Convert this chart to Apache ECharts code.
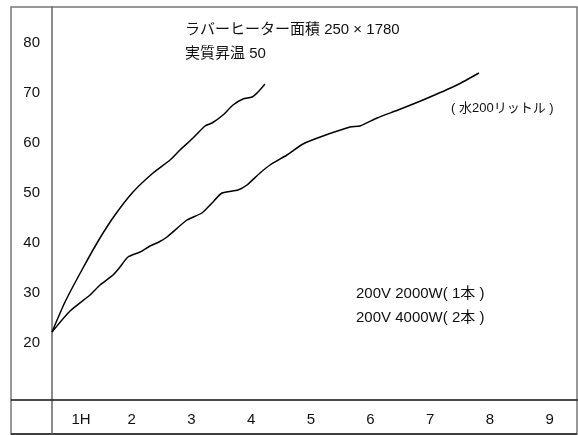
<!DOCTYPE html>
<html>
<head>
<meta charset="utf-8">
<script src="https://cdn.jsdelivr.net/npm/echarts@6/dist/echarts.min.js"></script>
<style>html,body{margin:0;padding:0;background:#fff;}#c{width:578px;height:435px;}</style>
</head>
<body>
<div id="c"></div>
<script>
// Tick labels
const xTicks = [1, 2, 3, 4, 5, 6, 7, 8, 9];
const yTicks = [20, 30, 40, 50, 60, 70, 80];

// 200V 4000W (2本) - upper curve: hours, temperature
const hours4000 = [0.665, 0.883, 1.184, 1.469, 1.720, 2.022, 2.357, 2.642, 2.809, 3.027, 3.228, 3.345, 3.529, 3.697, 3.864, 4.015, 4.116, 4.233];
const temps4000 = [22.2, 28.2, 35.0, 41.0, 45.6, 50.2, 54.0, 56.6, 58.6, 61.0, 63.4, 64.0, 65.6, 67.6, 68.8, 69.2, 70.2, 71.8];

// 200V 2000W (1本) - lower curve
const hours2000 = [0.665, 0.967, 1.302, 1.469, 1.687, 1.804, 1.938, 2.139, 2.307, 2.457, 2.591, 2.926, 3.178, 3.345, 3.513, 3.781, 3.931, 4.149, 4.317, 4.601, 4.869, 5.204, 5.657, 5.824, 6.109, 6.461, 6.879, 7.449, 7.817];
const temps2000 = [22.2, 26.4, 29.6, 31.6, 33.6, 35.2, 37.2, 38.2, 39.4, 40.2, 41.2, 44.6, 46.0, 48.0, 50.0, 50.6, 51.6, 54.0, 55.6, 57.6, 59.8, 61.4, 63.2, 63.4, 65.0, 66.6, 68.6, 71.6, 74.0];

const titleLine1 = 'ラバーヒーター面積 250 × 1780';
const titleLine2 = '実質昇温 50';
const waterNote = '( 水200リットル )';
const legend1 = '200V 2000W( 1本 )';
const legend2 = '200V 4000W( 2本 )';

const FONT = '"Liberation Sans", Arial, "Noto Sans CJK JP", sans-serif';

function zip(xs, ys) { return xs.map((x, i) => [x, ys[i]]); }

const chart = echarts.init(document.getElementById('c'), null, {renderer: 'canvas'});
chart.setOption({
  animation: false,
  backgroundColor: '#fff',
  grid: {left: 52, right: 1, top: 7, bottom: 35, containLabel: false},
  xAxis: {
    type: 'value', min: 0.665, max: 9.459,
    axisLine: {show: true, lineStyle: {color: '#111', width: 1.5}},
    axisTick: {show: false},
    splitLine: {show: false},
    axisLabel: {
      customValues: xTicks, margin: 12, fontSize: 15, color: '#111', fontFamily: FONT,
      formatter: v => v === 1 ? '{h|1H}' : String(v),
      rich: {h: {fontSize: 15, color: '#111', fontFamily: FONT, padding: [0, 0, 0, 18]}}
    }
  },
  yAxis: {
    type: 'value', min: 8.6, max: 87.2,
    axisLine: {show: true, lineStyle: {color: '#666', width: 1.5}},
    axisTick: {show: false},
    splitLine: {show: false},
    axisLabel: {customValues: yTicks, margin: 12, fontSize: 15, color: '#111', fontFamily: FONT}
  },
  series: [
    {type: 'line', name: legend2, data: zip(hours4000, temps4000), smooth: 0.2, symbol: 'none',
     lineStyle: {color: '#000', width: 1.5}},
    {type: 'line', name: legend1, data: zip(hours2000, temps2000), smooth: 0.2, symbol: 'none',
     lineStyle: {color: '#000', width: 1.5}}
  ],
  graphic: [
    {type: 'rect', shape: {x: 11, y: 7, width: 566, height: 427}, style: {fill: 'none', stroke: '#777', lineWidth: 1.5}, silent: true},
    {type: 'line', shape: {x1: 11, y1: 434, x2: 577, y2: 434}, style: {stroke: '#222', lineWidth: 1.5}, silent: true},
    {type: 'line', shape: {x1: 11, y1: 400, x2: 52, y2: 400}, style: {stroke: '#111', lineWidth: 1.5}, silent: true},
    {type: 'line', shape: {x1: 52, y1: 400, x2: 52, y2: 434}, style: {stroke: '#666', lineWidth: 1.5}, silent: true},
    {type: 'text', x: 185, y: 30, style: {text: titleLine1, font: '15px ' + FONT, fill: '#111', textVerticalAlign: 'middle'}},
    {type: 'text', x: 185, y: 54, style: {text: titleLine2, font: '15px ' + FONT, fill: '#111', textVerticalAlign: 'middle'}},
    {type: 'text', x: 451, y: 108, style: {text: waterNote, font: '13px ' + FONT, fill: '#111', textVerticalAlign: 'middle'}},
    {type: 'text', x: 356, y: 294, style: {text: legend1, font: '15px ' + FONT, fill: '#111', textVerticalAlign: 'middle'}},
    {type: 'text', x: 356, y: 318, style: {text: legend2, font: '15px ' + FONT, fill: '#111', textVerticalAlign: 'middle'}}
  ]
});
</script>
</body>
</html>
